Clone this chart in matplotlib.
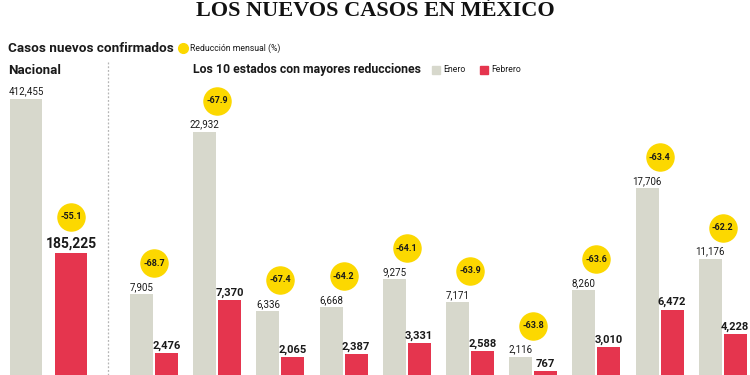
import numpy as np
import matplotlib.pyplot as plt
from matplotlib.transforms import ScaledTranslation

# datos
nacional = [412455, 185225]
nacional_red = -55.1
enero = [7905, 22932, 6336, 6668, 9275, 7171, 2116, 8260, 17706, 11176]
febrero = [2476, 7370, 2065, 2387, 3331, 2588, 767, 3010, 6472, 4228]
reduccion = [-68.7, -67.9, -67.4, -64.2, -64.1, -63.9, -63.8, -63.6, -63.4, -62.2]

GRIS = '#d7d8cc'
ROJO = '#e5354e'
AMARILLO = '#fcd800'
TXT = '#1a1a1a'
sans = ['Roboto', 'DejaVu Sans']

W, H = 750, 375
fig = plt.figure(figsize=(7.5, 3.75), dpi=100)
fig.patch.set_facecolor('white')

def fx(px):
    return px / W

def fy(py):
    return 1 - py / H

def up(ax, px):
    return ax.transData + ScaledTranslation(0, px / 100, fig.dpi_scale_trans)

# --- panel nacional
ax1 = fig.add_axes([0, 0, fx(108), 1])
u1 = 45.0
ax1.set_xlim(-26 / u1, (108 - 26) / u1)
ax1.set_ylim(5164, 558477)
ax1.bar([0, 1], nacional, width=32 / u1, color=[GRIS, ROJO])
ax1.annotate(f'{nacional[0]:,}', (0, nacional[0]), xytext=(0, 2), textcoords='offset points',
             ha='center', va='bottom', fontsize=7, color=TXT, family=sans)
ax1.annotate(f'{nacional[1]:,}', (1, nacional[1]), xytext=(0, 1.5), textcoords='offset points',
             ha='center', va='bottom', fontsize=10, fontweight='bold', color=TXT, family=sans)
ax1.plot([1], [nacional[1]], 'o', ms=19.5, color=AMARILLO, transform=up(ax1, 36), clip_on=False)
ax1.text(1, nacional[1], f'{nacional_red}', transform=up(ax1, 36), ha='center', va='center',
         fontsize=6.5, fontweight='bold', color=TXT, family=sans)
ax1.axis('off')

# --- panel estados
ax2 = fig.add_axes([fx(108), 0, fx(642), 1])
u2 = 63.2
x = np.arange(len(enero))
ax2.set_xlim(-46 / u2, (642 - 46) / u2)
ax2.set_ylim(407, 35132)
off = 12.5 / u2
ax2.bar(x - off, enero, width=23 / u2, color=GRIS)
ax2.bar(x + off, febrero, width=23 / u2, color=ROJO)
for i in range(len(enero)):
    ax2.annotate(f'{enero[i]:,}', (x[i] - off, enero[i]), xytext=(0, 1.5), textcoords='offset points',
                 ha='center', va='bottom', fontsize=7, color=TXT, family=sans)
    ax2.annotate(f'{febrero[i]:,}', (x[i] + off, febrero[i]), xytext=(0, 1.5), textcoords='offset points',
                 ha='center', va='bottom', fontsize=8, fontweight='bold', color=TXT, family=sans)
    ax2.plot([x[i]], [enero[i]], 'o', ms=19.5, color=AMARILLO, transform=up(ax2, 31), clip_on=False)
    ax2.text(x[i], enero[i], f'{reduccion[i]}', transform=up(ax2, 31), ha='center', va='center',
             fontsize=6.5, fontweight='bold', color=TXT, family=sans)
ax2.axis('off')

# separador punteado
fig.add_artist(plt.Line2D([fx(108), fx(108)], [fy(62), 0], color='#b5b5b5', lw=0.9, ls=(0, (1.5, 1.5))))

# encabezados
fig.text(0.5, fy(16), 'LOS NUEVOS CASOS EN MÉXICO', ha='center', va='baseline', fontsize=16,
         fontweight='bold', family=['Liberation Serif'], color='#111')
fig.text(fx(8), fy(48), 'Casos nuevos confirmados', ha='left', va='center', fontsize=9.7,
         fontweight='bold', color=TXT, family=sans)
fig.add_artist(plt.Line2D([fx(183)], [fy(48)], marker='o', ms=7, color=AMARILLO, lw=0))
fig.text(fx(190), fy(48), 'Reducción mensual (%)', ha='left', va='center', fontsize=6.2,
         color=TXT, family=sans)
fig.text(fx(8), fy(70), 'Nacional', ha='left', va='center', fontsize=9.5,
         fontweight='bold', color=TXT, family=sans)
fig.text(fx(193), fy(70), 'Los 10 estados con mayores reducciones', ha='left', va='center', fontsize=8.8,
         fontweight='bold', color=TXT, family=sans)
fig.add_artist(plt.Line2D([fx(436)], [fy(70)], marker='s', ms=6, color=GRIS, lw=0))
fig.text(fx(443), fy(70), 'Enero', ha='left', va='center', fontsize=6.2, color=TXT, family=sans)
fig.add_artist(plt.Line2D([fx(484)], [fy(70)], marker='s', ms=6, color=ROJO, lw=0))
fig.text(fx(491), fy(70), 'Febrero', ha='left', va='center', fontsize=6.2, color=TXT, family=sans)

fig.savefig('out.png', dpi=100)
